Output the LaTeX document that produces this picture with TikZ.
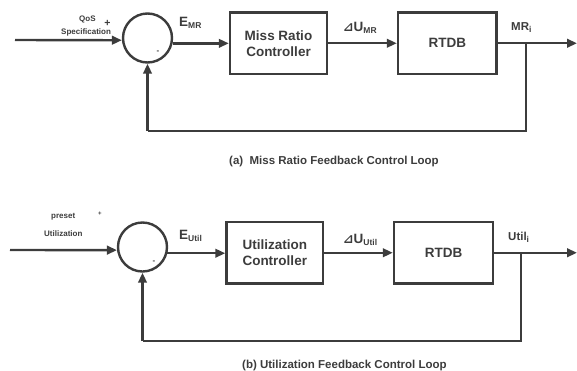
\documentclass[tikz,border=0pt]{standalone}
\usepackage{fontspec}
\setmainfont{Liberation Sans}
\newfontfamily\dejavu{DejaVu Sans}
\usetikzlibrary{arrows.meta}
\definecolor{ink}{HTML}{3C3C3C}
\newcommand{\lsub}[1]{\textsubscript{\fontsize{8.5}{8.5}\selectfont #1}}
\newcommand{\dtri}{{\dejavu\fontsize{12.5}{12.5}\selectfont ⊿}}
\begin{document}
\begin{tikzpicture}[x=1pt,y=-1pt,
  line width=2.4pt, draw=ink, text=ink,
  blk/.style={draw=ink, line width=2.4pt, rectangle, minimum height=61.5pt, align=center, font=\bfseries\fontsize{13.5}{16}\selectfont, inner sep=0pt},
  sumj/.style={draw=ink, line width=2.4pt, circle, minimum size=49pt, inner sep=0pt},
  arr/.style={draw=ink, line width=2.4pt, -{Triangle[length=10pt,width=8.5pt]}},
  ln/.style={draw=ink, line width=2.4pt},
  sig/.style={font=\bfseries\fontsize{13.5}{16}\selectfont, inner sep=0pt, anchor=base west},
  sigs/.style={font=\bfseries\fontsize{11.5}{14}\selectfont, inner sep=0pt, anchor=base west},
  tiny/.style={font=\bfseries\fontsize{8}{9}\selectfont, inner sep=0pt, anchor=base west},
  captxt/.style={font=\bfseries\fontsize{11.5}{14}\selectfont, inner sep=0pt, anchor=base west}]
\useasboundingbox (0,0) rectangle (577,370);
% ---- (a)
\node[sumj] (c1) at (147.5,38) {};
\node[blk, minimum width=97pt] (b1) at (278.5,43.25) {Miss Ratio\\Controller};
\node[blk, minimum width=98.5pt] (b2) at (447.25,43.25) {RTDB};
\coordinate (in1) at (15,40);
\coordinate (out1) at (577,43.25);
\coordinate (br1) at (526,43.25);
\coordinate (bt1) at (526,131);
\coordinate (bl1) at (147.5,131);
\draw[arr] (in1) -- (c1.185);
\draw[arr] (c1.-12) -- (c1.-12 -| b1.west);
\draw[arr] (b1.east) -- (b2.west);
\draw[arr] (b2.east) -- (out1);
\draw[ln] (br1) -- (bt1) -- (bl1);
\draw[arr] (bl1) -- (c1.south);
\node[tiny] (qos) at (78,21) {QoS};
\node[tiny] (spec) at (60,34) {Specification};
\node[font=\bfseries\fontsize{10.5}{10.5}\selectfont, inner sep=0pt] (p1) at (107.5,23) {+};
\node[font=\bfseries\fontsize{8}{8}\selectfont, inner sep=0pt] (m1) at (158,52) {-};
\node[sig] (e1) at (178,26.5) {E\lsub{MR}};
\node[sig] (u1) at (342,31) {\dtri U\lsub{MR}};
\node[sigs] (o1) at (510,30) {MR\lsub{i}};
\node[captxt] (t1) at (228,164) {(a)\ \ Miss Ratio Feedback Control Loop};
% ---- (b)
\node[sumj] (c2) at (142.5,247) {};
\node[blk, minimum width=96.5pt] (b3) at (274.75,252.75) {Utilization\\Controller};
\node[blk, minimum width=99pt] (b4) at (443.5,252.75) {RTDB};
\coordinate (in2) at (10,250);
\coordinate (out2) at (577,252.75);
\coordinate (br2) at (521,252.75);
\coordinate (bt2) at (521,341);
\coordinate (bl2) at (142.5,341);
\draw[arr] (in2) -- (c2.187);
\draw[arr] (c2.-14) -- (c2.-14 -| b3.west);
\draw[arr] (b3.east) -- (b4.west);
\draw[arr] (b4.east) -- (out2);
\draw[ln] (br2) -- (bt2) -- (bl2);
\draw[arr] (bl2) -- (c2.south);
\node[tiny] (pre) at (50,218) {preset};
\node[tiny] (uti) at (43,236) {Utilization};
\node[font=\bfseries\fontsize{6}{6}\selectfont, inner sep=0pt] (p2) at (100,214) {+};
\node[font=\bfseries\fontsize{8}{8}\selectfont, inner sep=0pt] (m2) at (154,262) {-};
\node[sig] (e2) at (178,239.5) {E\lsub{Util}};
\node[sig] (u2) at (342,243) {\dtri U\lsub{Util}};
\node[sigs] (o2) at (507,240) {Util\lsub{i}};
\node[captxt] (t2) at (241,368) {(b) Utilization Feedback Control Loop};
\end{tikzpicture}
\end{document}
